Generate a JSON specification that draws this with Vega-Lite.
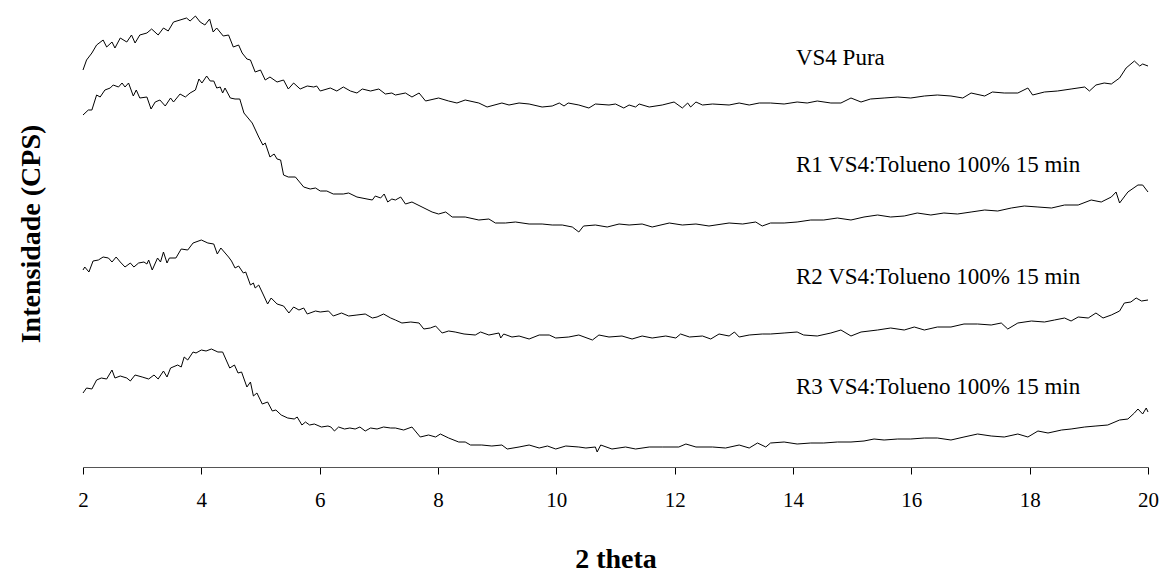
{
  "$schema": "https://vega.github.io/schema/vega-lite/v6.json",
  "width": 1065,
  "height": 467,
  "autosize": {"type": "none"},
  "padding": {"left": 83, "top": 0, "right": 11, "bottom": 105},
  "background": "white",
  "config": {
    "view": {"stroke": null},
    "font": "Liberation Serif",
    "axis": {"grid": false}
  },
  "datasets": {
    "curves": [
      {"s":"VS4","x":2.00,"y":397},{"s":"VS4","x":2.06,"y":407},{"s":"VS4","x":2.15,"y":414},{"s":"VS4","x":2.23,"y":422},{"s":"VS4","x":2.34,"y":427},{"s":"VS4","x":2.40,"y":420},{"s":"VS4","x":2.49,"y":425},{"s":"VS4","x":2.54,"y":419},{"s":"VS4","x":2.63,"y":429},{"s":"VS4","x":2.74,"y":425},{"s":"VS4","x":2.82,"y":432},{"s":"VS4","x":2.88,"y":424},{"s":"VS4","x":2.96,"y":432},{"s":"VS4","x":3.08,"y":434},{"s":"VS4","x":3.16,"y":438},{"s":"VS4","x":3.27,"y":432},{"s":"VS4","x":3.36,"y":439},{"s":"VS4","x":3.44,"y":436},{"s":"VS4","x":3.53,"y":445},{"s":"VS4","x":3.64,"y":447},{"s":"VS4","x":3.75,"y":449},{"s":"VS4","x":3.81,"y":446},{"s":"VS4","x":3.90,"y":451},{"s":"VS4","x":3.98,"y":445},{"s":"VS4","x":4.06,"y":442},{"s":"VS4","x":4.14,"y":448},{"s":"VS4","x":4.20,"y":435},{"s":"VS4","x":4.26,"y":439},{"s":"VS4","x":4.37,"y":431},{"s":"VS4","x":4.46,"y":432},{"s":"VS4","x":4.54,"y":420},{"s":"VS4","x":4.63,"y":422},{"s":"VS4","x":4.69,"y":414},{"s":"VS4","x":4.77,"y":408},{"s":"VS4","x":4.83,"y":407},{"s":"VS4","x":4.91,"y":395},{"s":"VS4","x":5.00,"y":397},{"s":"VS4","x":5.08,"y":387},{"s":"VS4","x":5.16,"y":390},{"s":"VS4","x":5.28,"y":385},{"s":"VS4","x":5.39,"y":387},{"s":"VS4","x":5.47,"y":378},{"s":"VS4","x":5.56,"y":384},{"s":"VS4","x":5.67,"y":378},{"s":"VS4","x":5.79,"y":381},{"s":"VS4","x":5.90,"y":380},{"s":"VS4","x":5.95,"y":381},{"s":"VS4","x":6.01,"y":376},{"s":"VS4","x":6.18,"y":379},{"s":"VS4","x":6.29,"y":376},{"s":"VS4","x":6.40,"y":380},{"s":"VS4","x":6.52,"y":376},{"s":"VS4","x":6.63,"y":374},{"s":"VS4","x":6.72,"y":378},{"s":"VS4","x":6.86,"y":376},{"s":"VS4","x":7.00,"y":378},{"s":"VS4","x":7.11,"y":373},{"s":"VS4","x":7.22,"y":374},{"s":"VS4","x":7.28,"y":372},{"s":"VS4","x":7.45,"y":374},{"s":"VS4","x":7.56,"y":370},{"s":"VS4","x":7.68,"y":374},{"s":"VS4","x":7.79,"y":366},{"s":"VS4","x":8.01,"y":369},{"s":"VS4","x":8.18,"y":366},{"s":"VS4","x":8.32,"y":364},{"s":"VS4","x":8.46,"y":367},{"s":"VS4","x":8.69,"y":364},{"s":"VS4","x":8.83,"y":360},{"s":"VS4","x":9.08,"y":364},{"s":"VS4","x":9.20,"y":362},{"s":"VS4","x":9.37,"y":364},{"s":"VS4","x":9.54,"y":363},{"s":"VS4","x":9.76,"y":360},{"s":"VS4","x":9.93,"y":361},{"s":"VS4","x":10.05,"y":364},{"s":"VS4","x":10.13,"y":361},{"s":"VS4","x":10.20,"y":364},{"s":"VS4","x":10.38,"y":362},{"s":"VS4","x":10.55,"y":359},{"s":"VS4","x":10.66,"y":363},{"s":"VS4","x":10.89,"y":362},{"s":"VS4","x":11.00,"y":363},{"s":"VS4","x":11.14,"y":359},{"s":"VS4","x":11.23,"y":362},{"s":"VS4","x":11.34,"y":360},{"s":"VS4","x":11.40,"y":363},{"s":"VS4","x":11.57,"y":360},{"s":"VS4","x":11.79,"y":362},{"s":"VS4","x":11.99,"y":365},{"s":"VS4","x":12.13,"y":359},{"s":"VS4","x":12.22,"y":364},{"s":"VS4","x":12.27,"y":360},{"s":"VS4","x":12.36,"y":365},{"s":"VS4","x":12.47,"y":362},{"s":"VS4","x":12.64,"y":363},{"s":"VS4","x":12.92,"y":362},{"s":"VS4","x":13.09,"y":364},{"s":"VS4","x":13.26,"y":362},{"s":"VS4","x":13.43,"y":364},{"s":"VS4","x":13.62,"y":364},{"s":"VS4","x":13.85,"y":363},{"s":"VS4","x":14.07,"y":365},{"s":"VS4","x":14.24,"y":364},{"s":"VS4","x":14.41,"y":366},{"s":"VS4","x":14.64,"y":364},{"s":"VS4","x":14.81,"y":364},{"s":"VS4","x":14.98,"y":369},{"s":"VS4","x":15.15,"y":365},{"s":"VS4","x":15.31,"y":368},{"s":"VS4","x":15.54,"y":369},{"s":"VS4","x":15.77,"y":370},{"s":"VS4","x":15.99,"y":369},{"s":"VS4","x":16.22,"y":371},{"s":"VS4","x":16.44,"y":372},{"s":"VS4","x":16.67,"y":371},{"s":"VS4","x":16.87,"y":369},{"s":"VS4","x":17.01,"y":374},{"s":"VS4","x":17.24,"y":371},{"s":"VS4","x":17.37,"y":375},{"s":"VS4","x":17.57,"y":374},{"s":"VS4","x":17.80,"y":374},{"s":"VS4","x":17.97,"y":379},{"s":"VS4","x":18.05,"y":372},{"s":"VS4","x":18.25,"y":375},{"s":"VS4","x":18.47,"y":376},{"s":"VS4","x":18.70,"y":378},{"s":"VS4","x":18.93,"y":380},{"s":"VS4","x":19.01,"y":376},{"s":"VS4","x":19.12,"y":382},{"s":"VS4","x":19.26,"y":384},{"s":"VS4","x":19.38,"y":383},{"s":"VS4","x":19.52,"y":389},{"s":"VS4","x":19.63,"y":399},{"s":"VS4","x":19.77,"y":406},{"s":"VS4","x":19.86,"y":401},{"s":"VS4","x":19.91,"y":403},{"s":"VS4","x":20.00,"y":401},

      {"s":"R1","x":2.00,"y":352},{"s":"R1","x":2.09,"y":357},{"s":"R1","x":2.15,"y":357},{"s":"R1","x":2.23,"y":372},{"s":"R1","x":2.29,"y":370},{"s":"R1","x":2.37,"y":377},{"s":"R1","x":2.46,"y":379},{"s":"R1","x":2.51,"y":382},{"s":"R1","x":2.60,"y":380},{"s":"R1","x":2.66,"y":384},{"s":"R1","x":2.71,"y":380},{"s":"R1","x":2.77,"y":384},{"s":"R1","x":2.85,"y":371},{"s":"R1","x":2.90,"y":377},{"s":"R1","x":2.96,"y":369},{"s":"R1","x":3.08,"y":370},{"s":"R1","x":3.15,"y":358},{"s":"R1","x":3.22,"y":365},{"s":"R1","x":3.30,"y":367},{"s":"R1","x":3.39,"y":361},{"s":"R1","x":3.48,"y":369},{"s":"R1","x":3.53,"y":365},{"s":"R1","x":3.64,"y":373},{"s":"R1","x":3.73,"y":370},{"s":"R1","x":3.81,"y":374},{"s":"R1","x":3.90,"y":377},{"s":"R1","x":3.96,"y":388},{"s":"R1","x":4.01,"y":384},{"s":"R1","x":4.09,"y":391},{"s":"R1","x":4.15,"y":386},{"s":"R1","x":4.21,"y":386},{"s":"R1","x":4.26,"y":379},{"s":"R1","x":4.32,"y":380},{"s":"R1","x":4.36,"y":374},{"s":"R1","x":4.40,"y":379},{"s":"R1","x":4.49,"y":369},{"s":"R1","x":4.57,"y":368},{"s":"R1","x":4.65,"y":368},{"s":"R1","x":4.72,"y":354},{"s":"R1","x":4.86,"y":344},{"s":"R1","x":4.97,"y":330},{"s":"R1","x":5.04,"y":322},{"s":"R1","x":5.08,"y":324},{"s":"R1","x":5.16,"y":310},{"s":"R1","x":5.23,"y":313},{"s":"R1","x":5.28,"y":308},{"s":"R1","x":5.34,"y":307},{"s":"R1","x":5.39,"y":292},{"s":"R1","x":5.47,"y":290},{"s":"R1","x":5.59,"y":290},{"s":"R1","x":5.73,"y":280},{"s":"R1","x":5.84,"y":278},{"s":"R1","x":5.93,"y":279},{"s":"R1","x":6.01,"y":276},{"s":"R1","x":6.12,"y":276},{"s":"R1","x":6.23,"y":273},{"s":"R1","x":6.40,"y":273},{"s":"R1","x":6.49,"y":274},{"s":"R1","x":6.63,"y":270},{"s":"R1","x":6.80,"y":268},{"s":"R1","x":6.89,"y":267},{"s":"R1","x":6.94,"y":271},{"s":"R1","x":7.03,"y":269},{"s":"R1","x":7.09,"y":273},{"s":"R1","x":7.15,"y":265},{"s":"R1","x":7.22,"y":268},{"s":"R1","x":7.28,"y":267},{"s":"R1","x":7.37,"y":270},{"s":"R1","x":7.45,"y":263},{"s":"R1","x":7.56,"y":265},{"s":"R1","x":7.73,"y":260},{"s":"R1","x":7.90,"y":255},{"s":"R1","x":8.01,"y":253},{"s":"R1","x":8.13,"y":255},{"s":"R1","x":8.24,"y":250},{"s":"R1","x":8.46,"y":250},{"s":"R1","x":8.69,"y":247},{"s":"R1","x":8.86,"y":248},{"s":"R1","x":8.97,"y":244},{"s":"R1","x":9.14,"y":244},{"s":"R1","x":9.31,"y":245},{"s":"R1","x":9.54,"y":243},{"s":"R1","x":9.76,"y":243},{"s":"R1","x":9.93,"y":242},{"s":"R1","x":10.10,"y":242},{"s":"R1","x":10.27,"y":240},{"s":"R1","x":10.38,"y":235},{"s":"R1","x":10.46,"y":241},{"s":"R1","x":10.66,"y":242},{"s":"R1","x":10.86,"y":240},{"s":"R1","x":11.06,"y":243},{"s":"R1","x":11.23,"y":242},{"s":"R1","x":11.45,"y":243},{"s":"R1","x":11.62,"y":240},{"s":"R1","x":11.91,"y":244},{"s":"R1","x":12.13,"y":242},{"s":"R1","x":12.36,"y":243},{"s":"R1","x":12.58,"y":241},{"s":"R1","x":12.92,"y":244},{"s":"R1","x":13.15,"y":243},{"s":"R1","x":13.37,"y":245},{"s":"R1","x":13.48,"y":241},{"s":"R1","x":13.62,"y":244},{"s":"R1","x":13.85,"y":244},{"s":"R1","x":14.07,"y":245},{"s":"R1","x":14.30,"y":247},{"s":"R1","x":14.52,"y":247},{"s":"R1","x":14.75,"y":249},{"s":"R1","x":14.98,"y":247},{"s":"R1","x":15.20,"y":250},{"s":"R1","x":15.43,"y":252},{"s":"R1","x":15.65,"y":250},{"s":"R1","x":15.88,"y":251},{"s":"R1","x":16.10,"y":254},{"s":"R1","x":16.33,"y":252},{"s":"R1","x":16.55,"y":254},{"s":"R1","x":16.78,"y":253},{"s":"R1","x":17.01,"y":255},{"s":"R1","x":17.24,"y":257},{"s":"R1","x":17.46,"y":256},{"s":"R1","x":17.69,"y":259},{"s":"R1","x":17.91,"y":261},{"s":"R1","x":18.14,"y":260},{"s":"R1","x":18.37,"y":259},{"s":"R1","x":18.59,"y":262},{"s":"R1","x":18.82,"y":262},{"s":"R1","x":19.04,"y":267},{"s":"R1","x":19.21,"y":265},{"s":"R1","x":19.38,"y":270},{"s":"R1","x":19.46,"y":275},{"s":"R1","x":19.52,"y":264},{"s":"R1","x":19.66,"y":275},{"s":"R1","x":19.83,"y":282},{"s":"R1","x":19.91,"y":282},{"s":"R1","x":20.00,"y":275},

      {"s":"R2","x":2.00,"y":197},{"s":"R2","x":2.03,"y":200},{"s":"R2","x":2.10,"y":195},{"s":"R2","x":2.17,"y":206},{"s":"R2","x":2.26,"y":207},{"s":"R2","x":2.34,"y":210},{"s":"R2","x":2.43,"y":209},{"s":"R2","x":2.49,"y":205},{"s":"R2","x":2.56,"y":210},{"s":"R2","x":2.63,"y":205},{"s":"R2","x":2.71,"y":200},{"s":"R2","x":2.80,"y":204},{"s":"R2","x":2.86,"y":200},{"s":"R2","x":2.94,"y":204},{"s":"R2","x":3.03,"y":205},{"s":"R2","x":3.08,"y":203},{"s":"R2","x":3.11,"y":207},{"s":"R2","x":3.17,"y":197},{"s":"R2","x":3.26,"y":209},{"s":"R2","x":3.31,"y":205},{"s":"R2","x":3.36,"y":215},{"s":"R2","x":3.42,"y":204},{"s":"R2","x":3.46,"y":209},{"s":"R2","x":3.57,"y":209},{"s":"R2","x":3.66,"y":218},{"s":"R2","x":3.77,"y":217},{"s":"R2","x":3.86,"y":224},{"s":"R2","x":4.00,"y":227},{"s":"R2","x":4.11,"y":224},{"s":"R2","x":4.21,"y":223},{"s":"R2","x":4.27,"y":213},{"s":"R2","x":4.33,"y":219},{"s":"R2","x":4.46,"y":210},{"s":"R2","x":4.51,"y":206},{"s":"R2","x":4.57,"y":199},{"s":"R2","x":4.63,"y":201},{"s":"R2","x":4.71,"y":194},{"s":"R2","x":4.75,"y":195},{"s":"R2","x":4.83,"y":182},{"s":"R2","x":4.88,"y":184},{"s":"R2","x":4.91,"y":179},{"s":"R2","x":4.97,"y":182},{"s":"R2","x":5.05,"y":172},{"s":"R2","x":5.12,"y":163},{"s":"R2","x":5.18,"y":169},{"s":"R2","x":5.28,"y":163},{"s":"R2","x":5.39,"y":161},{"s":"R2","x":5.48,"y":154},{"s":"R2","x":5.56,"y":160},{"s":"R2","x":5.65,"y":157},{"s":"R2","x":5.73,"y":159},{"s":"R2","x":5.79,"y":153},{"s":"R2","x":5.93,"y":156},{"s":"R2","x":6.01,"y":155},{"s":"R2","x":6.15,"y":156},{"s":"R2","x":6.23,"y":151},{"s":"R2","x":6.37,"y":154},{"s":"R2","x":6.49,"y":151},{"s":"R2","x":6.63,"y":152},{"s":"R2","x":6.77,"y":153},{"s":"R2","x":6.89,"y":149},{"s":"R2","x":6.97,"y":150},{"s":"R2","x":7.08,"y":153},{"s":"R2","x":7.20,"y":149},{"s":"R2","x":7.28,"y":147},{"s":"R2","x":7.39,"y":144},{"s":"R2","x":7.54,"y":145},{"s":"R2","x":7.68,"y":144},{"s":"R2","x":7.76,"y":138},{"s":"R2","x":7.87,"y":139},{"s":"R2","x":7.96,"y":141},{"s":"R2","x":8.07,"y":134},{"s":"R2","x":8.18,"y":136},{"s":"R2","x":8.29,"y":135},{"s":"R2","x":8.44,"y":133},{"s":"R2","x":8.63,"y":132},{"s":"R2","x":8.72,"y":135},{"s":"R2","x":8.86,"y":132},{"s":"R2","x":9.03,"y":134},{"s":"R2","x":9.06,"y":129},{"s":"R2","x":9.11,"y":133},{"s":"R2","x":9.25,"y":130},{"s":"R2","x":9.37,"y":131},{"s":"R2","x":9.54,"y":128},{"s":"R2","x":9.71,"y":132},{"s":"R2","x":9.88,"y":132},{"s":"R2","x":9.99,"y":129},{"s":"R2","x":10.21,"y":130},{"s":"R2","x":10.38,"y":132},{"s":"R2","x":10.61,"y":127},{"s":"R2","x":10.72,"y":132},{"s":"R2","x":10.89,"y":130},{"s":"R2","x":11.11,"y":131},{"s":"R2","x":11.28,"y":128},{"s":"R2","x":11.45,"y":131},{"s":"R2","x":11.62,"y":129},{"s":"R2","x":11.85,"y":131},{"s":"R2","x":12.02,"y":129},{"s":"R2","x":12.10,"y":133},{"s":"R2","x":12.25,"y":130},{"s":"R2","x":12.47,"y":131},{"s":"R2","x":12.61,"y":128},{"s":"R2","x":12.75,"y":133},{"s":"R2","x":12.92,"y":131},{"s":"R2","x":13.01,"y":135},{"s":"R2","x":13.09,"y":130},{"s":"R2","x":13.26,"y":132},{"s":"R2","x":13.48,"y":133},{"s":"R2","x":13.62,"y":133},{"s":"R2","x":13.85,"y":134},{"s":"R2","x":14.07,"y":135},{"s":"R2","x":14.18,"y":132},{"s":"R2","x":14.41,"y":131},{"s":"R2","x":14.64,"y":134},{"s":"R2","x":14.81,"y":137},{"s":"R2","x":14.98,"y":131},{"s":"R2","x":15.15,"y":135},{"s":"R2","x":15.43,"y":137},{"s":"R2","x":15.65,"y":139},{"s":"R2","x":15.88,"y":137},{"s":"R2","x":16.05,"y":140},{"s":"R2","x":16.22,"y":137},{"s":"R2","x":16.44,"y":140},{"s":"R2","x":16.67,"y":140},{"s":"R2","x":16.89,"y":143},{"s":"R2","x":17.12,"y":143},{"s":"R2","x":17.35,"y":142},{"s":"R2","x":17.52,"y":144},{"s":"R2","x":17.63,"y":138},{"s":"R2","x":17.80,"y":144},{"s":"R2","x":18.03,"y":146},{"s":"R2","x":18.25,"y":145},{"s":"R2","x":18.42,"y":147},{"s":"R2","x":18.59,"y":149},{"s":"R2","x":18.70,"y":146},{"s":"R2","x":18.82,"y":150},{"s":"R2","x":18.99,"y":149},{"s":"R2","x":19.12,"y":154},{"s":"R2","x":19.24,"y":149},{"s":"R2","x":19.38,"y":152},{"s":"R2","x":19.52,"y":156},{"s":"R2","x":19.60,"y":164},{"s":"R2","x":19.71,"y":165},{"s":"R2","x":19.80,"y":169},{"s":"R2","x":19.89,"y":166},{"s":"R2","x":20.00,"y":167},

      {"s":"R3","x":2.00,"y":74},{"s":"R3","x":2.06,"y":79},{"s":"R3","x":2.15,"y":78},{"s":"R3","x":2.23,"y":87},{"s":"R3","x":2.31,"y":89},{"s":"R3","x":2.40,"y":88},{"s":"R3","x":2.49,"y":97},{"s":"R3","x":2.54,"y":89},{"s":"R3","x":2.63,"y":91},{"s":"R3","x":2.74,"y":89},{"s":"R3","x":2.80,"y":86},{"s":"R3","x":2.88,"y":92},{"s":"R3","x":3.00,"y":90},{"s":"R3","x":3.11,"y":88},{"s":"R3","x":3.20,"y":92},{"s":"R3","x":3.27,"y":88},{"s":"R3","x":3.36,"y":96},{"s":"R3","x":3.42,"y":90},{"s":"R3","x":3.48,"y":99},{"s":"R3","x":3.60,"y":102},{"s":"R3","x":3.66,"y":100},{"s":"R3","x":3.71,"y":110},{"s":"R3","x":3.77,"y":107},{"s":"R3","x":3.86,"y":115},{"s":"R3","x":3.91,"y":114},{"s":"R3","x":4.00,"y":117},{"s":"R3","x":4.08,"y":116},{"s":"R3","x":4.17,"y":118},{"s":"R3","x":4.28,"y":115},{"s":"R3","x":4.36,"y":115},{"s":"R3","x":4.48,"y":99},{"s":"R3","x":4.56,"y":102},{"s":"R3","x":4.62,"y":94},{"s":"R3","x":4.68,"y":95},{"s":"R3","x":4.77,"y":80},{"s":"R3","x":4.83,"y":85},{"s":"R3","x":4.88,"y":71},{"s":"R3","x":4.94,"y":74},{"s":"R3","x":5.03,"y":63},{"s":"R3","x":5.12,"y":65},{"s":"R3","x":5.20,"y":56},{"s":"R3","x":5.26,"y":57},{"s":"R3","x":5.35,"y":52},{"s":"R3","x":5.46,"y":49},{"s":"R3","x":5.57,"y":48},{"s":"R3","x":5.62,"y":50},{"s":"R3","x":5.70,"y":42},{"s":"R3","x":5.76,"y":45},{"s":"R3","x":5.83,"y":42},{"s":"R3","x":5.91,"y":43},{"s":"R3","x":6.03,"y":40},{"s":"R3","x":6.14,"y":41},{"s":"R3","x":6.19,"y":40},{"s":"R3","x":6.25,"y":36},{"s":"R3","x":6.32,"y":40},{"s":"R3","x":6.42,"y":38},{"s":"R3","x":6.51,"y":39},{"s":"R3","x":6.60,"y":38},{"s":"R3","x":6.68,"y":40},{"s":"R3","x":6.77,"y":36},{"s":"R3","x":6.86,"y":39},{"s":"R3","x":6.97,"y":38},{"s":"R3","x":7.08,"y":40},{"s":"R3","x":7.20,"y":39},{"s":"R3","x":7.28,"y":39},{"s":"R3","x":7.42,"y":37},{"s":"R3","x":7.56,"y":40},{"s":"R3","x":7.70,"y":30},{"s":"R3","x":7.84,"y":32},{"s":"R3","x":7.96,"y":30},{"s":"R3","x":8.04,"y":33},{"s":"R3","x":8.18,"y":29},{"s":"R3","x":8.35,"y":25},{"s":"R3","x":8.46,"y":25},{"s":"R3","x":8.55,"y":22},{"s":"R3","x":8.74,"y":22},{"s":"R3","x":8.91,"y":21},{"s":"R3","x":9.08,"y":22},{"s":"R3","x":9.17,"y":18},{"s":"R3","x":9.37,"y":20},{"s":"R3","x":9.54,"y":22},{"s":"R3","x":9.71,"y":19},{"s":"R3","x":9.85,"y":21},{"s":"R3","x":9.99,"y":18},{"s":"R3","x":10.16,"y":21},{"s":"R3","x":10.38,"y":20},{"s":"R3","x":10.50,"y":19},{"s":"R3","x":10.66,"y":20},{"s":"R3","x":10.69,"y":15},{"s":"R3","x":10.75,"y":22},{"s":"R3","x":10.94,"y":18},{"s":"R3","x":11.17,"y":20},{"s":"R3","x":11.34,"y":18},{"s":"R3","x":11.57,"y":20},{"s":"R3","x":11.79,"y":20},{"s":"R3","x":12.07,"y":20},{"s":"R3","x":12.19,"y":23},{"s":"R3","x":12.36,"y":20},{"s":"R3","x":12.64,"y":20},{"s":"R3","x":12.86,"y":19},{"s":"R3","x":13.09,"y":22},{"s":"R3","x":13.26,"y":19},{"s":"R3","x":13.40,"y":24},{"s":"R3","x":13.54,"y":20},{"s":"R3","x":13.62,"y":24},{"s":"R3","x":13.85,"y":25},{"s":"R3","x":14.07,"y":23},{"s":"R3","x":14.30,"y":24},{"s":"R3","x":14.52,"y":24},{"s":"R3","x":14.75,"y":25},{"s":"R3","x":14.98,"y":25},{"s":"R3","x":15.20,"y":26},{"s":"R3","x":15.37,"y":28},{"s":"R3","x":15.54,"y":27},{"s":"R3","x":15.77,"y":28},{"s":"R3","x":15.99,"y":28},{"s":"R3","x":16.22,"y":29},{"s":"R3","x":16.44,"y":29},{"s":"R3","x":16.67,"y":27},{"s":"R3","x":16.89,"y":30},{"s":"R3","x":17.12,"y":33},{"s":"R3","x":17.35,"y":31},{"s":"R3","x":17.57,"y":30},{"s":"R3","x":17.80,"y":33},{"s":"R3","x":17.97,"y":30},{"s":"R3","x":18.14,"y":36},{"s":"R3","x":18.31,"y":34},{"s":"R3","x":18.54,"y":37},{"s":"R3","x":18.70,"y":38},{"s":"R3","x":18.93,"y":40},{"s":"R3","x":19.12,"y":41},{"s":"R3","x":19.32,"y":42},{"s":"R3","x":19.52,"y":47},{"s":"R3","x":19.66,"y":48},{"s":"R3","x":19.77,"y":54},{"s":"R3","x":19.83,"y":58},{"s":"R3","x":19.91,"y":53},{"s":"R3","x":19.97,"y":59},{"s":"R3","x":20.00,"y":55}
    ],
    "labels": [
      {"x": 14.05, "y": 409, "t": "VS4 Pura"},
      {"x": 14.05, "y": 302, "t": "R1 VS4:Tolueno 100% 15 min"},
      {"x": 14.05, "y": 190, "t": "R2 VS4:Tolueno 100% 15 min"},
      {"x": 14.05, "y": 80, "t": "R3 VS4:Tolueno 100% 15 min"}
    ]
  },
  "layer": [
    {
      "data": {"name": "curves"},
      "mark": {"type": "line", "color": "black", "strokeWidth": 1},
      "encoding": {
        "x": {
          "field": "x", "type": "quantitative",
          "scale": {"domain": [2, 20], "nice": false, "zero": false},
          "axis": {
            "values": [2, 4, 6, 8, 10, 12, 14, 16, 18, 20],
            "format": "d",
            "title": "2 theta",
            "labelFont": "Liberation Serif", "labelFontSize": 21, "labelColor": "black",
            "labelFlush": false, "labelPadding": 15,
            "tickColor": "black", "tickSize": 7, "domainColor": "#555555",
            "titleFont": "Liberation Serif", "titleFontSize": 28, "titleFontWeight": "bold",
            "titleColor": "black", "titlePadding": 35
          }
        },
        "y": {
          "field": "y", "type": "quantitative",
          "scale": {"domain": [0, 467], "nice": false},
          "axis": {
            "title": "Intensidade (CPS)",
            "domain": false, "ticks": false, "labels": false,
            "titleFont": "Liberation Serif", "titleFontSize": 28, "titleFontWeight": "bold",
            "titleColor": "black", "titlePadding": 38
          }
        },
        "detail": {"field": "s", "type": "nominal"}
      }
    },
    {
      "data": {"name": "labels"},
      "mark": {"type": "text", "align": "left", "baseline": "middle", "font": "Liberation Serif", "fontSize": 23, "color": "black"},
      "encoding": {
        "x": {"field": "x", "type": "quantitative"},
        "y": {"field": "y", "type": "quantitative"},
        "text": {"field": "t", "type": "nominal"}
      }
    }
  ]
}
